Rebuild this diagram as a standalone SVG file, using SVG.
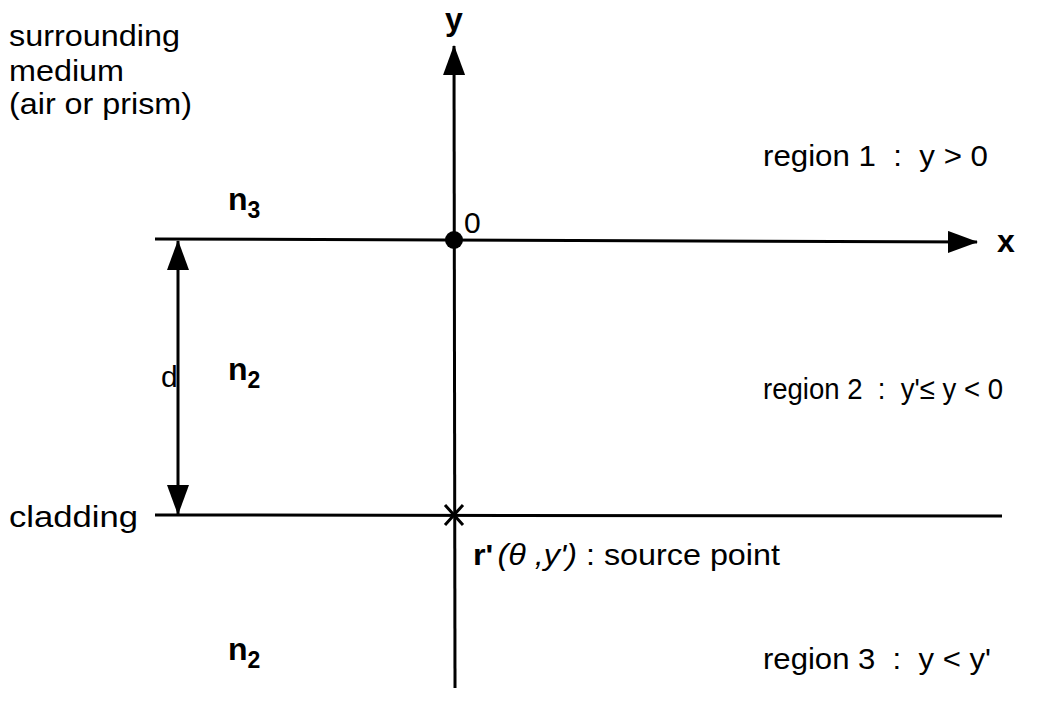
<svg xmlns="http://www.w3.org/2000/svg" width="1047" height="713" viewBox="0 0 1047 713">
<style>
.ln{stroke:#000;stroke-width:3;fill:none}
.t{font-family:"Liberation Sans",Arial,sans-serif;font-size:30px;fill:#000;white-space:pre}
.b{font-family:"Liberation Sans",Arial,sans-serif;font-size:32px;font-weight:bold;fill:#000}
.s{font-size:23px}
</style>
<defs>
<marker id="ah" markerUnits="userSpaceOnUse" markerWidth="30" markerHeight="22" refX="29" refY="11" orient="auto-start-reverse">
<path d="M0,0 L30,11 L0,22 Z" fill="#000"/>
</marker>
</defs>
<rect width="1047" height="713" fill="#fff"/>
<g id="connectors">
<line class="ln" x1="455" y1="688" x2="454" y2="46" marker-end="url(#ah)"/>
<line class="ln" x1="155" y1="239" x2="977" y2="242" marker-end="url(#ah)"/>
<line class="ln" x1="155" y1="515" x2="1002" y2="516"/>
<line class="ln" x1="178" y1="241" x2="178" y2="514" marker-start="url(#ah)" marker-end="url(#ah)"/>
</g>
<g id="origin"><circle cx="454" cy="240" r="9" fill="#000"/><text class="t" x="464" y="233">0</text></g>
<g id="source"><path class="ln" d="M445,505 L463,525 M463,505 L445,525"/></g>
<g id="axis-y"><text class="b" x="454" y="30" text-anchor="middle">y</text></g>
<g id="axis-x"><text class="b" x="997" y="252">x</text></g>
<g id="medium-label"><text class="t" x="9" y="46" textLength="171" lengthAdjust="spacingAndGlyphs">surrounding</text>
<text class="t" x="9" y="81" textLength="115" lengthAdjust="spacingAndGlyphs">medium</text>
<text class="t" x="9" y="114" textLength="183" lengthAdjust="spacingAndGlyphs">(air or prism)</text></g>
<g id="n3"><text class="b" x="228" y="210">n<tspan class="s" dy="8">3</tspan></text></g>
<g id="n2a"><text class="b" x="228" y="380">n<tspan class="s" dy="8">2</tspan></text></g>
<g id="n2b"><text class="b" x="228" y="660">n<tspan class="s" dy="8">2</tspan></text></g>
<g id="d-label"><text class="t" x="161" y="387">d</text></g>
<g id="cladding"><text class="t" x="9" y="527" textLength="129" lengthAdjust="spacingAndGlyphs">cladding</text></g>
<g id="region1"><text class="t" x="763" y="166" textLength="225" lengthAdjust="spacingAndGlyphs" xml:space="preserve">region 1  :  y &gt; 0</text></g>
<g id="region2"><text class="t" x="763" y="399" textLength="240" lengthAdjust="spacingAndGlyphs" xml:space="preserve">region 2  :  y'≤ y &lt; 0</text></g>
<g id="region3"><text class="t" x="763" y="669" textLength="228" lengthAdjust="spacingAndGlyphs" xml:space="preserve">region 3  :  y &lt; y'</text></g>
<g id="source-label"><text class="t" x="473" y="565" textLength="307" lengthAdjust="spacingAndGlyphs"><tspan font-weight="bold">r'</tspan><tspan font-style="italic" dx="4">(θ ,y')</tspan> : source point</text></g>
</svg>
